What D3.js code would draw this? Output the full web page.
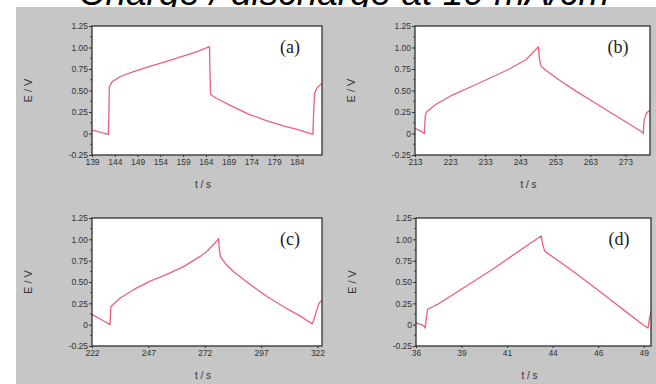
<!DOCTYPE html>
<html>
<head>
<meta charset="utf-8">
<script src="https://cdn.jsdelivr.net/npm/d3@7"></script>
<style>
  html, body { margin: 0; padding: 0; background: #ffffff; }
  svg { display: block; }
  .tick text { font-family: "Liberation Sans", Arial, sans-serif; }
</style>
</head>
<body>
<svg id="chart" width="656" height="384"></svg>
<script>
// Galvanostatic charge / discharge curves, four electrodes (a)–(d)
const panelNames = ["(a)", "(b)", "(c)", "(d)"];

// (a) time / s and potential / V
const timeA = [139, 140.5, 141.8, 142.6, 142.7, 142.8, 143.4, 145.1, 148.1, 151.7, 155.4, 159.0, 162.0, 164.8, 164.9, 165.0, 165.1, 166.3, 170.0, 173.6, 177.3, 181.0, 184.6, 187.5, 187.7, 187.9, 188.4, 189.4];
const potentialA = [0.04, 0.02, 0.0, -0.01, 0.2, 0.54, 0.6, 0.66, 0.72, 0.78, 0.84, 0.9, 0.95, 1.01, 0.74, 0.5, 0.45, 0.41, 0.31, 0.22, 0.15, 0.09, 0.04, -0.01, 0.3, 0.47, 0.53, 0.58];

// (b)
const timeB = [213, 214.5, 215.7, 215.8, 216.0, 216.3, 219.0, 223.8, 230.4, 235.2, 239.9, 244.7, 248.2, 248.4, 248.7, 249.0, 250.5, 254.2, 259.0, 263.8, 268.5, 273.3, 277.6, 278.1, 278.3, 279.0, 280];
const potentialB = [0.06, 0.03, 0.0, 0.12, 0.22, 0.25, 0.34, 0.45, 0.57, 0.66, 0.75, 0.86, 1.01, 0.9, 0.82, 0.78, 0.73, 0.62, 0.49, 0.37, 0.25, 0.13, 0.02, 0.0, 0.15, 0.24, 0.27];

// (c)
const timeC = [222, 226, 230.0, 230.2, 230.4, 234.4, 240.4, 247.8, 255.2, 262.6, 270.0, 273.0, 277.4, 278.1, 278.4, 278.9, 281, 284.8, 292.2, 299.6, 307.0, 314.4, 319.6, 320.3, 321.1, 322.6, 324];
const potentialC = [0.12, 0.06, 0.0, 0.12, 0.21, 0.31, 0.41, 0.51, 0.59, 0.68, 0.80, 0.86, 0.98, 1.01, 0.9, 0.80, 0.72, 0.62, 0.47, 0.33, 0.21, 0.10, 0.01, 0.05, 0.12, 0.25, 0.29];

// (d)
const timeD = [36, 36.3, 36.46, 36.51, 36.58, 36.64, 36.92, 37.2, 38.38, 40.21, 42.04, 42.87, 42.95, 43.05, 43.14, 43.4, 43.87, 44.79, 45.71, 46.62, 47.54, 48.46, 48.73, 48.82, 48.9];
const potentialD = [0.02, 0.0, -0.02, -0.04, 0.1, 0.18, 0.21, 0.24, 0.40, 0.65, 0.92, 1.04, 0.95, 0.87, 0.85, 0.81, 0.74, 0.6, 0.45, 0.3, 0.15, 0.0, -0.04, 0.08, 0.15];

// time-axis ranges and tick marks
const timeRanges = [[139, 189.5], [213, 280], [222, 324], [36, 48.9]];
const timeTicksA = [139, 144, 149, 154, 159, 164, 169, 174, 179, 184];
const timeTicksB = [213, 223, 233, 243, 253, 263, 273];
const timeTicksC = [222, 247, 272, 297, 322];
const timeTicksD = [36, 38.5, 41, 43.5, 46, 48.5];
const timeTickLabelsD = ["36", "39", "41", "44", "46", "49"];

// potential axis
const potentialRange = [-0.25, 1.25];
const potentialTicks = [-0.25, 0, 0.25, 0.5, 0.75, 1.0, 1.25];
const potentialTickLabels = ["-0.25", "0", "0.25", "0.50", "0.75", "1.00", "1.25"];

const titleText = "Charge / discharge at 10 mA/cm";
const xTitle = "t / s";
const yTitle = "E / V";

const curveColor = "#e9607a";
const frameColor = "#303030";
const textColor = "#333333";

const panels = [
  { name: panelNames[0], t: timeA, e: potentialA, range: timeRanges[0], ticks: timeTicksA, labels: timeTicksA.map(String), box: [92, 26, 322, 155] },
  { name: panelNames[1], t: timeB, e: potentialB, range: timeRanges[1], ticks: timeTicksB, labels: timeTicksB.map(String), box: [415, 26, 650, 155] },
  { name: panelNames[2], t: timeC, e: potentialC, range: timeRanges[2], ticks: timeTicksC, labels: timeTicksC.map(String), box: [92, 218, 322, 346] },
  { name: panelNames[3], t: timeD, e: potentialD, range: timeRanges[3], ticks: timeTicksD, labels: timeTickLabelsD, box: [416, 218, 651, 346] }
];

const svg = d3.select("#chart");

// title, partly clipped by the top edge
svg.append("text")
  .attr("x", 344).attr("y", 5)
  .attr("text-anchor", "middle")
  .attr("font-family", "Liberation Sans, Arial, sans-serif")
  .attr("font-style", "italic")
  .attr("font-size", 37)
  .attr("fill", "#000")
  .text(titleText);

// grey figure backdrop
svg.append("rect")
  .attr("x", 16).attr("y", 7)
  .attr("width", 656 - 16).attr("height", 384 - 7)
  .attr("fill", "#c6c6c6");

panels.forEach(p => {
  const [x0, y0, x1, y1] = p.box;
  const x = d3.scaleLinear().domain(p.range).range([x0, x1]);
  const y = d3.scaleLinear().domain(potentialRange).range([y1, y0]);
  const g = svg.append("g");

  // white plotting area
  g.append("rect")
    .attr("x", x0).attr("y", y0)
    .attr("width", x1 - x0).attr("height", y1 - y0)
    .attr("fill", "#ffffff");

  // potential axis (left)
  const yAxis = d3.axisLeft(y)
    .tickValues(potentialTicks)
    .tickFormat((d, i) => potentialTickLabels[i])
    .tickSize(3).tickPadding(1);
  const ya = g.append("g").attr("transform", `translate(${x0},0)`).call(yAxis);
  ya.select(".domain").remove();
  ya.selectAll("line").attr("stroke", frameColor);
  ya.selectAll("text").attr("font-size", 8.5).attr("fill", textColor);

  // minor potential ticks
  const minorY = d3.range(-0.125, 1.25, 0.25);
  g.append("g").selectAll("line").data(minorY).join("line")
    .attr("x1", x0 - 2).attr("x2", x0)
    .attr("y1", d => y(d)).attr("y2", d => y(d))
    .attr("stroke", frameColor).attr("stroke-width", 0.8);

  // time axis (bottom)
  const xAxis = d3.axisBottom(x)
    .tickValues(p.ticks)
    .tickFormat((d, i) => p.labels[i])
    .tickSize(2).tickPadding(2);
  const xa = g.append("g").attr("transform", `translate(0,${y1})`).call(xAxis);
  xa.select(".domain").remove();
  xa.selectAll("line").attr("stroke", frameColor);
  xa.selectAll("text").attr("font-size", 8.5).attr("fill", textColor);

  // the charge / discharge curve
  const line = d3.line().x((d, i) => x(p.t[i])).y(d => y(d));
  const clipId = "clip" + p.name.replace(/[()]/g, "");
  svg.append("clipPath").attr("id", clipId)
    .append("rect").attr("x", x0).attr("y", y0).attr("width", x1 - x0).attr("height", y1 - y0);
  g.append("path")
    .datum(p.e)
    .attr("d", line)
    .attr("fill", "none")
    .attr("stroke", curveColor)
    .attr("stroke-width", 1.3)
    .attr("stroke-linejoin", "round")
    .attr("clip-path", `url(#${clipId})`);

  // frame
  g.append("rect")
    .attr("x", x0).attr("y", y0)
    .attr("width", x1 - x0).attr("height", y1 - y0)
    .attr("fill", "none")
    .attr("stroke", frameColor).attr("stroke-width", 1.3);

  // panel letter
  g.append("text")
    .attr("x", x1 - 32).attr("y", y0 + 27)
    .attr("text-anchor", "middle")
    .attr("font-family", "Liberation Serif, Times New Roman, serif")
    .attr("font-size", 18)
    .attr("fill", "#222")
    .text(p.name);

  // axis titles
  g.append("text")
    .attr("x", (x0 + x1) / 2 - 4).attr("y", y1 + 33)
    .attr("text-anchor", "middle")
    .attr("font-family", "Liberation Sans, Arial, sans-serif")
    .attr("font-size", 10)
    .attr("fill", textColor)
    .text(xTitle);

  g.append("text")
    .attr("transform", `translate(${x0 - 64},${(y0 + y1) / 2}) rotate(-90)`)
    .attr("text-anchor", "middle")
    .attr("dominant-baseline", "central")
    .attr("font-family", "Liberation Sans, Arial, sans-serif")
    .attr("font-size", 11)
    .attr("fill", textColor)
    .text(yTitle);
});
</script>
</body>
</html>
